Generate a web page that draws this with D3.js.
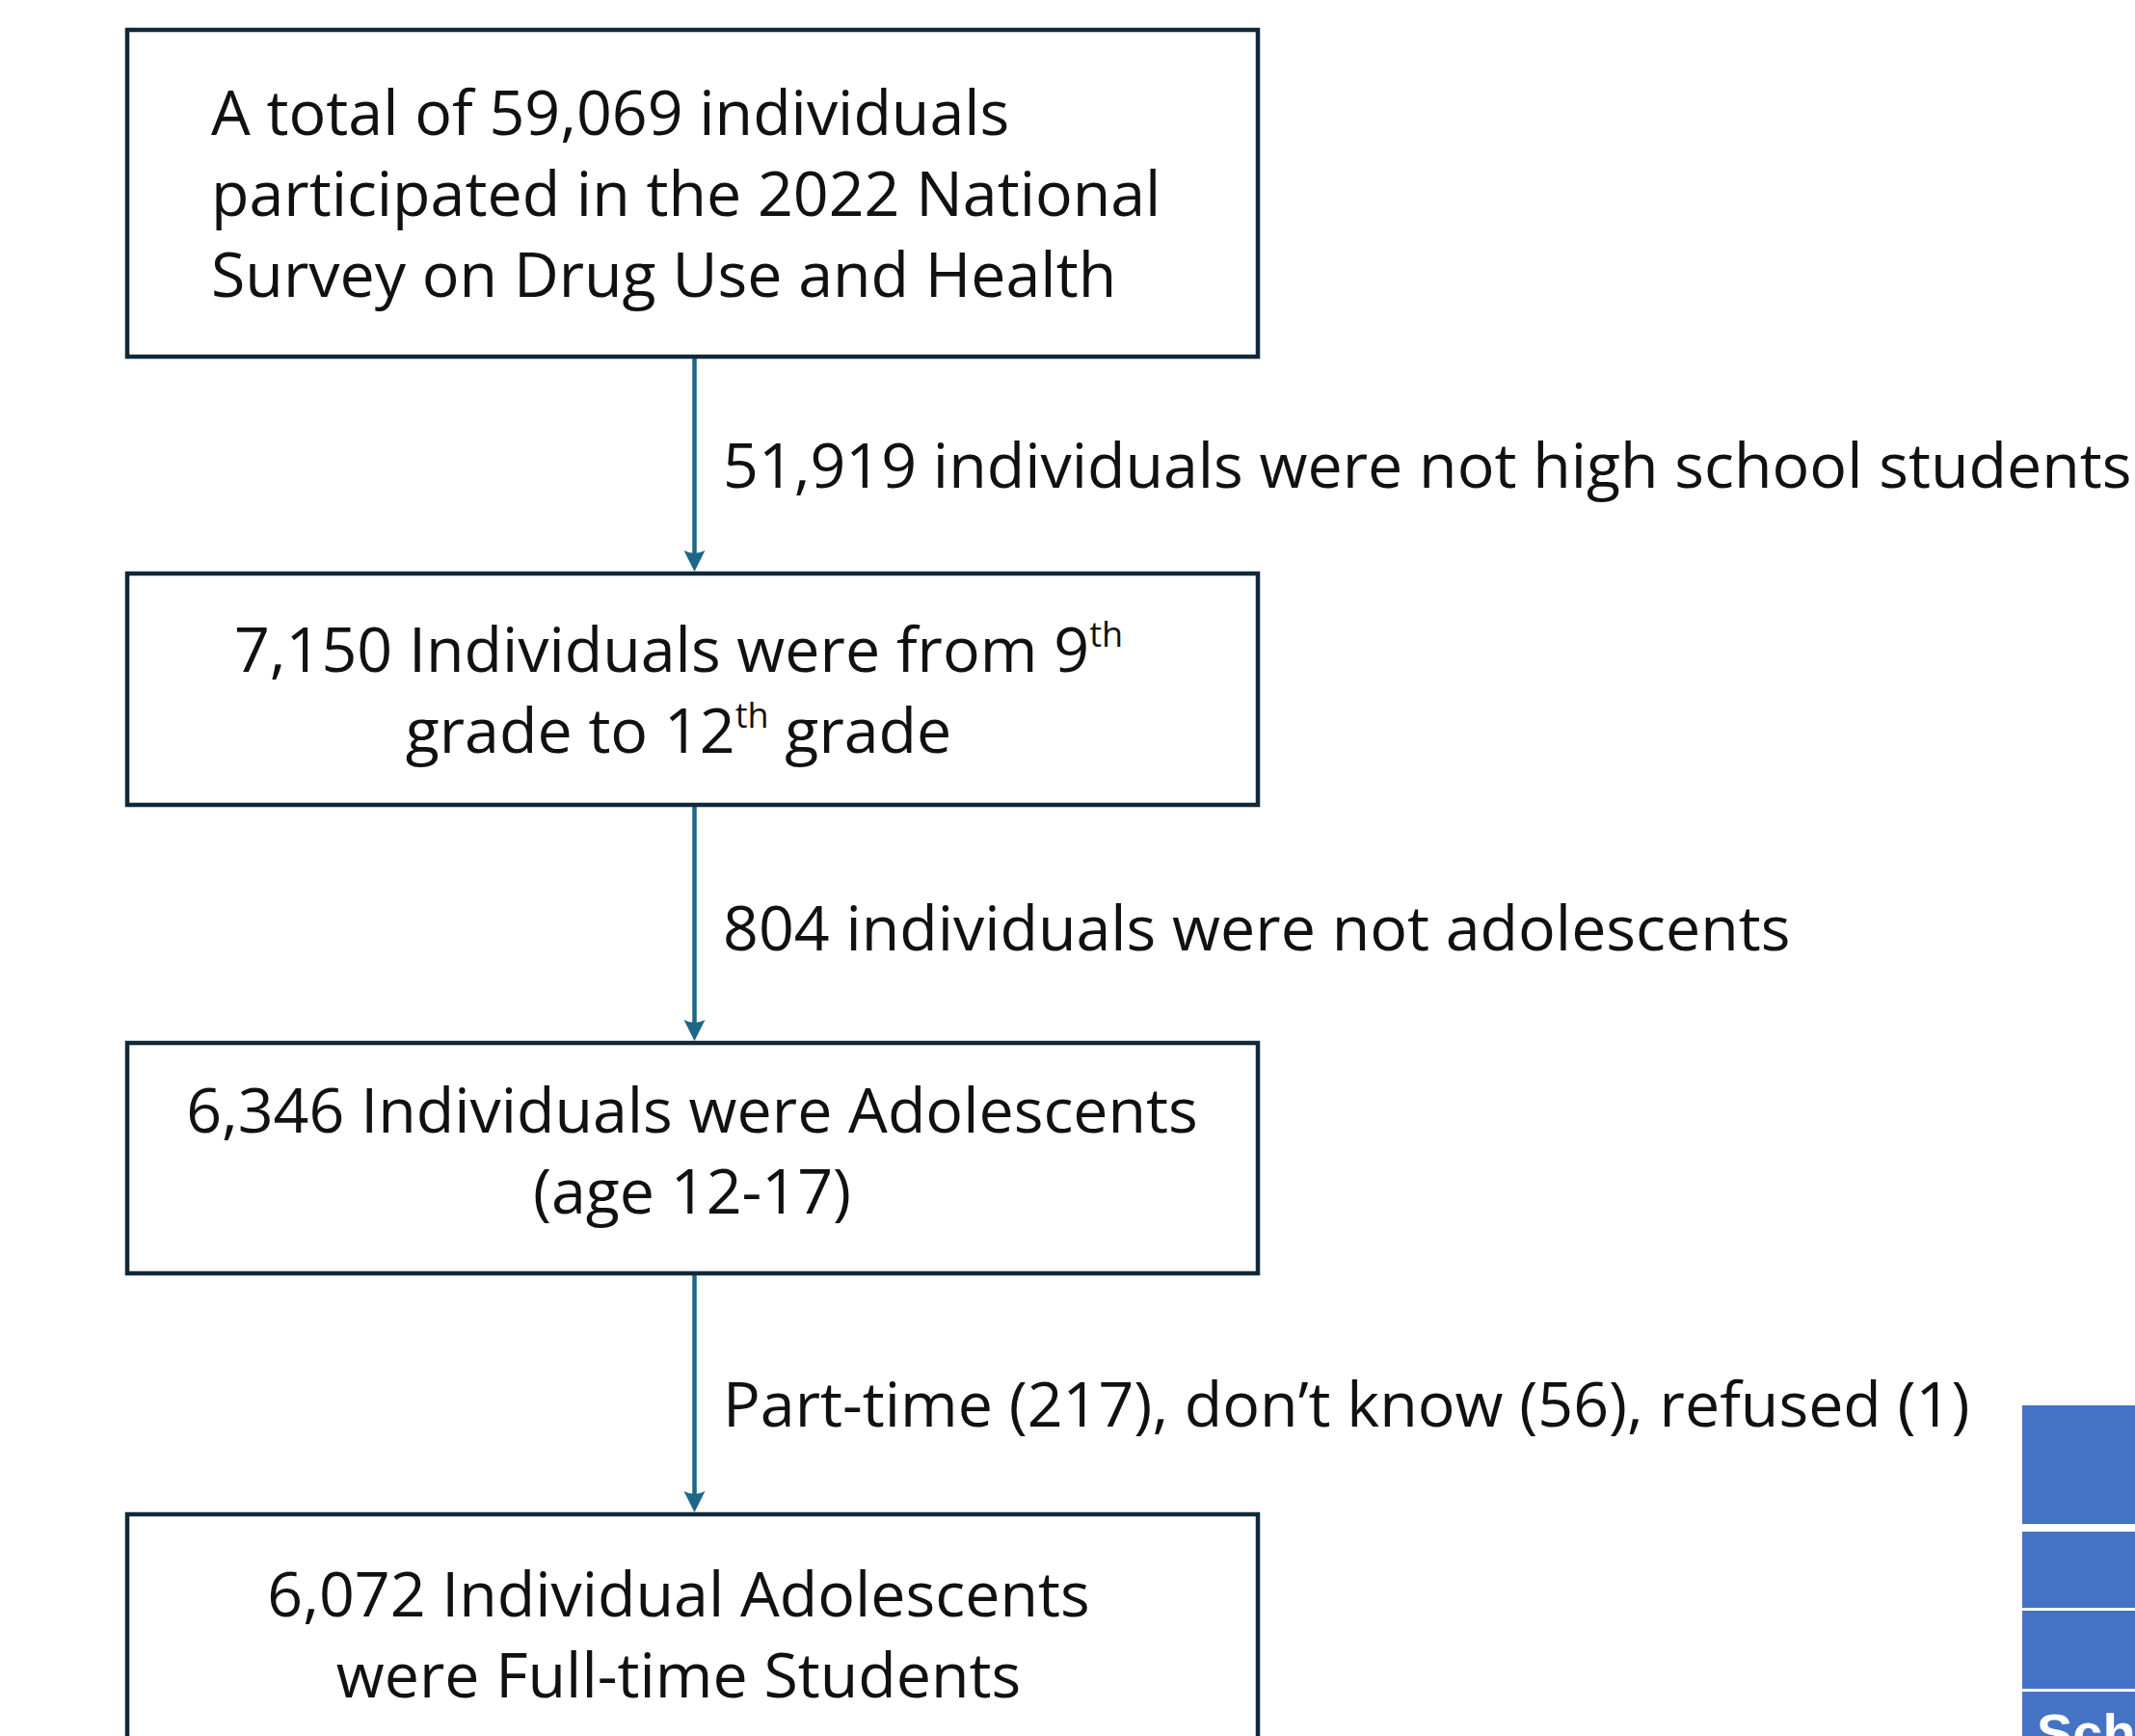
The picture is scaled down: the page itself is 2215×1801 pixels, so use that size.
<!DOCTYPE html>
<html>
<head>
<meta charset="utf-8">
<script src="https://cdn.jsdelivr.net/npm/d3@7"></script>
<style>
  html, body { margin: 0; padding: 0; background: #fff; }
  svg { display: block; }
  .box { fill: #fff; stroke: #10293a; stroke-width: 4.5; }
  .flow { stroke: #1d6688; stroke-width: 4.5; }
  .head { fill: #1d6688; }
  .txt { font-family: "Open Sans", sans-serif; fill: #111; }
</style>
</head>
<body>
<div id="chart"></div>
<script>
// stage texts ("^" marks a superscript run)
const stageLines = [
  ["A total of 59,069 individuals", "participated in the 2022 National", "Survey on Drug Use and Health"],
  ["7,150 Individuals were from 9^th", "grade to 12^th grade"],
  ["6,346 Individuals were Adolescents", "(age 12-17)"],
  ["6,072 Individual Adolescents", "were Full-time Students"]
];
const exclusionLabels = [
  "51,919 individuals were not high school students",
  "804 individuals were not adolescents",
  "Part-time (217), don\u2019t know (56), refused (1)"
];
const tableRows = ["", "", "", "Sch"];

const W = 2215, H = 1801;

// layout
const boxX = 132, boxW = 1173;
const boxTop = [31, 595, 1082, 1571];
const boxH = [339, 240, 239, 260];
const lineGap = 84;
const firstBase = [140, 697, 1175, 1677];
const textAnchor = ["start", "middle", "middle", "middle"];
const textX = [219, 704, 718, 704];
const labelBase = [506, 986, 1480];
const arrowX = 720.5;
const fs = 64.5;

const svg = d3.select("#chart").append("svg").attr("width", W).attr("height", H);

// right-hand table fragment
const rowTop = [1458, 1589, 1671, 1755];
const rowBot = [1581, 1668, 1752, 1815];
const tg = svg.append("g");
tg.selectAll("rect").data(tableRows).enter().append("rect")
  .attr("x", 2098).attr("y", (d, i) => rowTop[i])
  .attr("width", 200).attr("height", (d, i) => rowBot[i] - rowTop[i])
  .attr("fill", "#4472c4");
tg.selectAll("text").data(tableRows).enter().append("text")
  .attr("x", 2113).attr("y", (d, i) => rowTop[i] + 62)
  .attr("font-family", "'Liberation Sans', Arial, sans-serif")
  .attr("font-weight", "bold").attr("font-size", 56).attr("fill", "#fff")
  .text(d => d);

// arrows between stages
const arrows = svg.append("g");
exclusionLabels.forEach((lab, i) => {
  const y0 = boxTop[i] + boxH[i];
  const y1 = boxTop[i + 1] - 2;
  arrows.append("line").attr("class", "flow")
    .attr("x1", arrowX).attr("x2", arrowX).attr("y1", y0).attr("y2", y1 - 14);
  arrows.append("path").attr("class", "head")
    .attr("d", `M${arrowX - 11},${y1 - 22} Q${arrowX},${y1 - 16} ${arrowX + 11},${y1 - 22} L${arrowX},${y1} Z`);
  arrows.append("text").attr("class", "txt")
    .attr("x", 750).attr("y", labelBase[i])
    .attr("font-size", fs)
    .text(lab);
});

// boxes
const boxes = svg.append("g").selectAll("g").data(stageLines).enter().append("g");
boxes.append("rect").attr("class", "box")
  .attr("x", boxX).attr("y", (d, i) => boxTop[i])
  .attr("width", boxW).attr("height", (d, i) => boxH[i]);

boxes.each(function (lines, i) {
  const g = d3.select(this);
  lines.forEach((ln, j) => {
    const t = g.append("text").attr("class", "txt")
      .attr("x", textX[i]).attr("y", firstBase[i] + j * lineGap)
      .attr("text-anchor", textAnchor[i])
      .attr("font-size", fs);
    const parts = ln.split(/\^(th)/);
    let raised = false;
    parts.forEach((p, k) => {
      if (!p) return;
      const s = t.append("tspan").text(p);
      if (k % 2 === 1) {
        s.attr("font-size", 36).attr("dy", -26);
        raised = true;
      } else if (raised) {
        s.attr("dy", 26);
        raised = false;
      }
    });
  });
});
</script>
</body>
</html>
